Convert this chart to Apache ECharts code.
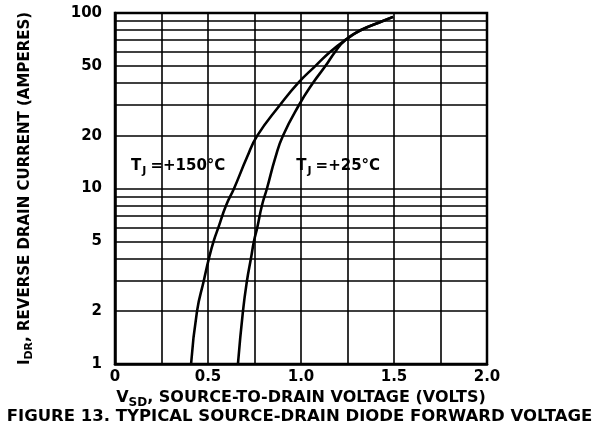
<!DOCTYPE html>
<html>
<head>
<meta charset="utf-8">
<script src="https://cdn.jsdelivr.net/npm/echarts@6/dist/echarts.min.js"></script>
<style>
  html, body { margin: 0; padding: 0; background: #fff; }
  #main { width: 599px; height: 423px; }
</style>
</head>
<body>
<div id="main"></div>
<script>
// 坐标轴刻度
const xTickLabels = [0, 0.5, 1.0, 1.5, 2.0];
const yTickLabels = [1, 2, 5, 10, 20, 50, 100];
const yGridValues = [1, 2, 3, 4, 5, 6, 7, 8, 9, 10, 20, 30, 40, 50, 60, 70, 80, 90, 100];

// TJ = +150°C
const vsd150 = [0.409, 0.441, 0.478, 0.505, 0.53, 0.556, 0.597, 0.64, 0.709, 0.765, 0.888, 0.985, 1.078, 1.156, 1.237, 1.323, 1.44, 1.495];
const idr150 = [1, 2, 3, 4, 5, 6, 8, 10, 15, 20, 30, 40, 50, 60, 70, 80, 90, 95];
// TJ = +25°C
const vsd25 = [0.661, 0.688, 0.71, 0.731, 0.747, 0.765, 0.79, 0.817, 0.862, 0.903, 0.99, 1.065, 1.132, 1.183, 1.237, 1.323, 1.44, 1.495];
const idr25 = [1, 2, 3, 4, 5, 6, 8, 10, 15, 20, 30, 40, 50, 60, 70, 80, 90, 95];

const toPairs = (xs, ys) => xs.map((x, i) => [x, ys[i]]);

let myChart = echarts.init(document.getElementById('main'));

const font = 'DejaVu Sans, Liberation Sans, sans-serif';
const tjRich = {
    t: { fontFamily: font, fontWeight: 'bold', fontSize: 15, color: '#000' },
    sub: { fontFamily: font, fontWeight: 'bold', fontSize: 11, color: '#000', padding: [9, 4, 0, 1] }
};
const nameRich = {
    v: { fontFamily: font, fontWeight: 'bold', fontSize: 15, color: '#000' },
    sub: { fontFamily: font, fontWeight: 'bold', fontSize: 11, color: '#000', padding: [9, 0, 0, 0] }
};
const xNameRich = {
    v: { fontFamily: font, fontWeight: 'bold', fontSize: 16, color: '#000' },
    sub: { fontFamily: font, fontWeight: 'bold', fontSize: 12, color: '#000', padding: [9, 0, 0, 0] }
};

let option = {
    animation: false,
    backgroundColor: '#fff',
    grid: {
        left: 115, right: 112, top: 13, bottom: 59,
        show: true, borderColor: '#000', borderWidth: 2.5
    },
    title: {
        text: 'FIGURE 13. TYPICAL SOURCE-DRAIN DIODE FORWARD VOLTAGE',
        left: 'center', top: 403,
        textStyle: { fontFamily: font, fontWeight: 'bold', fontSize: 16.5, color: '#000' }
    },
    xAxis: {
        type: 'value',
        min: 0, max: 2, interval: 0.25,
        name: '{v|V}{sub|SD}{v|, SOURCE-TO-DRAIN VOLTAGE (VOLTS)}',
        nameLocation: 'middle', nameGap: 19,
        nameTextStyle: { rich: xNameRich },
        axisLine: { show: true, lineStyle: { color: '#000', width: 2.5 } },
        axisTick: { show: false },
        axisLabel: {
            customValues: xTickLabels,
            margin: 6,
            fontFamily: font, fontWeight: 'bold', fontSize: 15, color: '#000',
            formatter: v => v === 0 ? '0' : v.toFixed(1)
        },
        splitLine: { show: true, lineStyle: { color: '#000', width: 1.6 } }
    },
    yAxis: {
        type: 'log', logBase: 10, min: 1, max: 100,
        name: '{v|I}{sub|DR}{v|, REVERSE DRAIN CURRENT (AMPERES)}',
        nameLocation: 'middle', nameGap: 80, nameRotate: 90,
        nameTextStyle: { rich: nameRich },
        axisLine: { show: true, lineStyle: { color: '#000', width: 2.5 } },
        axisTick: { show: false, customValues: yGridValues },
        axisLabel: {
            customValues: yTickLabels,
            margin: 13,
            fontFamily: font, fontWeight: 'bold', fontSize: 15, color: '#000'
        },
        splitLine: { show: true, lineStyle: { color: '#000', width: 1.6 } }
    },
    series: [
        {
            name: '150',
            type: 'line',
            data: toPairs(vsd150, idr150),
            smooth: 0.5,
            showSymbol: false,
            lineStyle: { color: '#000', width: 2.6 },
            markPoint: {
                symbolSize: 0,
                label: { show: true, formatter: '{t|T}{sub|J}{t|=+150°C}', rich: tjRich },
                data: [{ coord: [0.34, 13.4] }]
            }
        },
        {
            name: '25',
            type: 'line',
            data: toPairs(vsd25, idr25),
            smooth: 0.5,
            showSymbol: false,
            lineStyle: { color: '#000', width: 2.6 },
            markPoint: {
                symbolSize: 0,
                label: { show: true, formatter: '{t|T}{sub|J}{t|=+25°C}', rich: tjRich },
                data: [{ coord: [1.2, 13.4] }]
            }
        }
    ]
};

myChart.setOption(option);
</script>
</body>
</html>
